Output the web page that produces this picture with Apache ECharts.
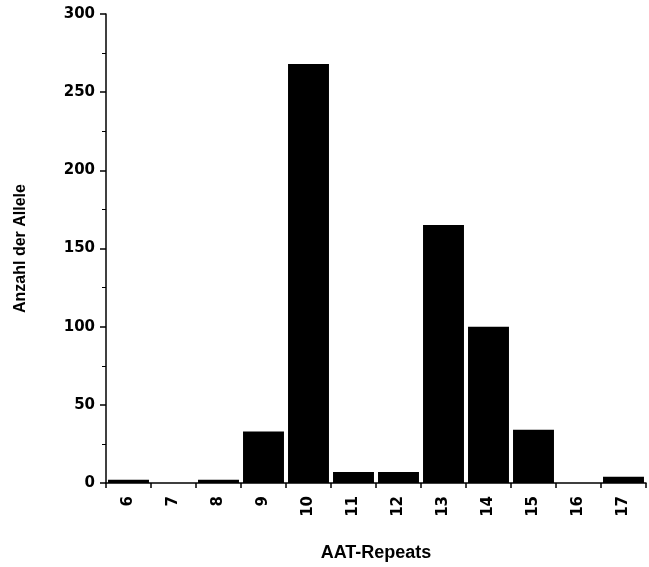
<!DOCTYPE html>
<html>
<head>
<meta charset="utf-8">
<script src="https://cdn.jsdelivr.net/npm/echarts@6/dist/echarts.min.js"></script>
<style>
html,body{margin:0;padding:0;background:#fff;overflow:hidden;}
#chart{width:100vw;height:100vh;}
</style>
</head>
<body>
<div id="chart"></div>
<script>
const categories = ['6','7','8','9','10','11','12','13','14','15','16','17'];
const alleleCounts = [2, 0, 2, 33, 268, 7, 7, 165, 100, 34, 0, 4];
const yTicks = [0, 50, 100, 150, 200, 250, 300];

const chart = echarts.init(document.getElementById('chart'), null, {renderer: 'canvas'});
const titleFont = '"Liberation Sans", Arial, Helvetica, sans-serif';
const tickFont = '"DejaVu Sans", "Liberation Sans", sans-serif';
chart.setOption({
  animation: false,
  backgroundColor: '#fff',
  grid: {left: 106, right: 3, top: 14, bottom: 79, containLabel: false},
  xAxis: {
    type: 'category',
    data: categories,
    name: 'AAT-Repeats',
    nameLocation: 'middle',
    nameGap: 61,
    nameTextStyle: {fontFamily: titleFont, fontWeight: 'bold', fontSize: 18, color: '#000'},
    axisLine: {lineStyle: {color: '#000', width: 1.5}},
    axisTick: {show: true, length: 5, lineStyle: {color: '#000', width: 1.5}},
    axisLabel: {rotate: 90, margin: 13, fontFamily: tickFont, fontWeight: 'bold', fontSize: 15, color: '#000'},
    splitLine: {show: false}
  },
  yAxis: {
    type: 'value',
    min: yTicks[0],
    max: yTicks[yTicks.length - 1],
    interval: 50,
    name: 'Anzahl der Allele',
    nameLocation: 'middle',
    nameGap: 77,
    nameTextStyle: {fontFamily: titleFont, fontWeight: 'bold', fontSize: 16, color: '#000'},
    axisLine: {show: true, lineStyle: {color: '#000', width: 1.5}},
    axisTick: {show: true, length: 6, lineStyle: {color: '#000', width: 1.5}},
    minorTick: {show: true, splitNumber: 2, length: 4, lineStyle: {color: '#000', width: 1}},
    axisLabel: {margin: 11, fontFamily: tickFont, fontWeight: 'bold', fontSize: 15, color: '#000'},
    splitLine: {show: false}
  },
  series: [{
    type: 'bar',
    data: alleleCounts,
    barCategoryGap: '9%',
    itemStyle: {color: '#000'}
  }]
});
</script>
</body>
</html>
